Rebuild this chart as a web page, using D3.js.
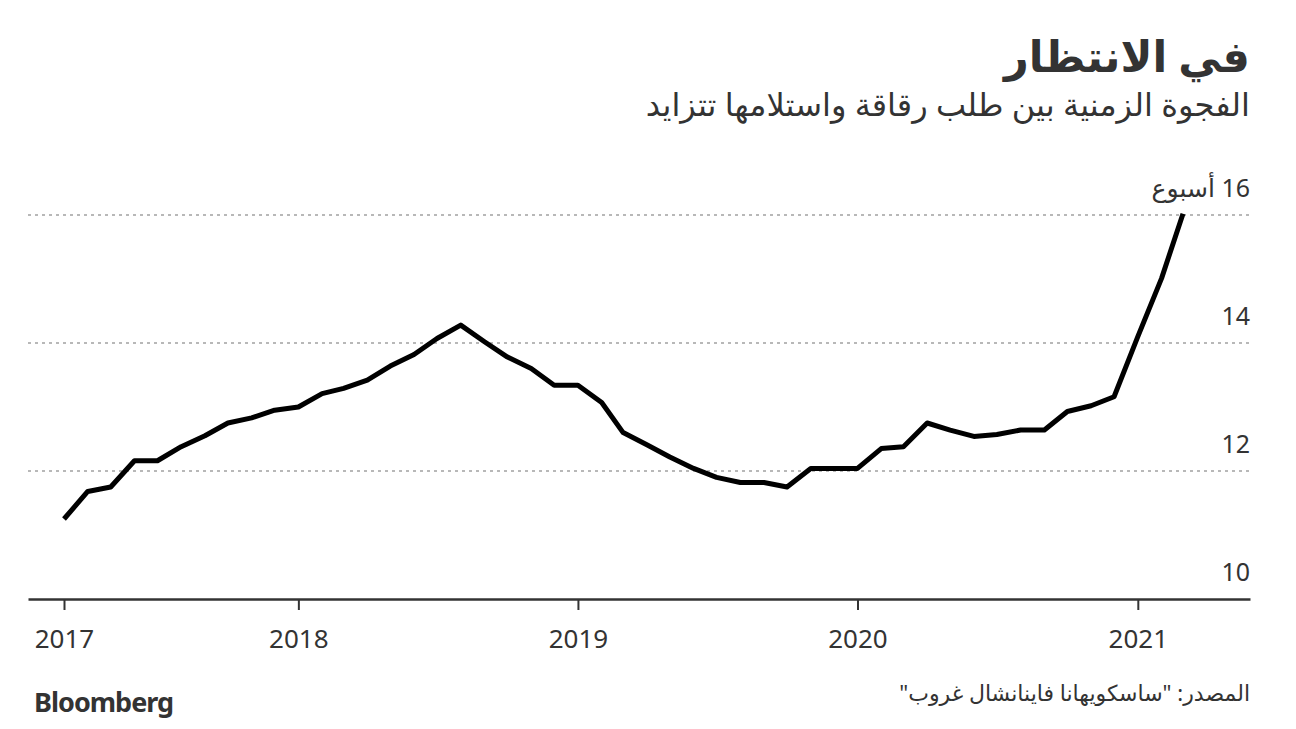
<!DOCTYPE html>
<html><head><meta charset="utf-8">
<script src="https://cdn.jsdelivr.net/npm/d3@7"></script>
<style>
body{margin:0;background:#fff;}
svg{display:block;}
text{font-family:"Noto Sans","DejaVu Sans",sans-serif;}
</style></head>
<body>
<svg id="c" width="1296" height="729"></svg>
<script>
const title = "في الانتظار";
const subtitle = "الفجوة الزمنية بين طلب رقاقة واستلامها تتزايد";
const source = "المصدر: \"ساسكويهانا فاينانشال غروب\"";
const unitLabel = "أسبوع";
const startMonth = "2017-03";
const values = [11.25,11.68,11.75,12.16,12.16,12.38,12.55,12.75,12.83,12.95,13.0,13.21,13.29,
  13.42,13.64,13.82,14.07,14.28,14.02,13.78,13.60,13.34,13.34,13.07,12.60,12.41,12.22,
  12.04,11.90,11.82,11.82,11.75,12.04,12.04,12.04,12.35,12.38,12.75,12.64,12.54,12.57,
  12.64,12.64,12.93,13.02,13.16,14.10,15.01,16.02];
const yTicks = [10,12,14,16];
const xTickYears = [2017,2018,2019,2020,2021];

(function(){
const parse = d3.timeParse("%Y-%m");
const d0 = parse(startMonth);
const dates = values.map((v,i)=>d3.timeMonth.offset(d0,i));
const data = values.map((v,i)=>({date:dates[i], value:v}));

const svg = d3.select("#c");
const mLeft=28, mRight=1250, mTop=215, mBottom=599;

const x0 = d3.scaleTime().domain([dates[0], dates[dates.length-1]]).range([64,1183]);
const x = d3.scaleTime().domain([x0.invert(mLeft), x0.invert(mRight)]).range([mLeft,mRight]);
const y = d3.scaleLinear().domain([10,16]).range([mBottom,mTop]);

svg.append("text").attr("x",1250).attr("y",72).attr("text-anchor","start")
  .attr("direction","rtl").attr("font-size",43).attr("font-weight","bold").attr("fill","#333").text(title);
svg.append("text").attr("x",1250).attr("y",116).attr("text-anchor","start")
  .attr("direction","rtl").attr("font-size",32).attr("fill","#333").text(subtitle);

const grid = svg.append("g");
grid.selectAll("line").data(yTicks.filter(t=>t>10)).join("line")
  .attr("x1",mLeft).attr("x2",mRight).attr("y1",d=>y(d)).attr("y2",d=>y(d))
  .attr("stroke","#b8b8b8").attr("stroke-width",2).attr("stroke-dasharray","3,4");

svg.append("g").selectAll("text").data(yTicks).join("text")
  .attr("x",mRight).attr("y",d=>y(d)-18)
  .attr("text-anchor", d=> d===16 ? "start" : "end")
  .attr("font-size",25).attr("fill","#333")
  .attr("direction", d=> d===16 ? "rtl" : "ltr")
  .text(d=> d===16 ? d+" "+unitLabel : d);

const tickDates = xTickYears.map((yr,i)=> i===0 ? dates[0] : new Date(yr,0,1));
const xAxis = d3.axisBottom(x).tickValues(tickDates).tickFormat(d3.timeFormat("%Y"))
  .tickSize(11).tickSizeOuter(0).tickPadding(20);
const gx = svg.append("g").attr("transform",`translate(0,${mBottom})`).call(xAxis);
gx.select(".domain").attr("stroke","#333").attr("stroke-width",2.5);
gx.selectAll(".tick line").attr("stroke","#333").attr("stroke-width",2);
gx.selectAll(".tick text").attr("font-size",26).attr("fill","#333")
  .attr("font-family","'Noto Sans','DejaVu Sans',sans-serif");

const line = d3.line().x(d=>x(d.date)).y(d=>y(d.value));
svg.append("path").datum(data).attr("d",line).attr("fill","none")
  .attr("stroke","#000").attr("stroke-width",5).attr("stroke-linejoin","round").attr("stroke-linecap","butt");

svg.append("text").attr("x",34).attr("y",712).attr("font-size",27).attr("font-weight","bold")
  .attr("fill","#333").attr("letter-spacing","-1").attr("font-family","'Liberation Sans',Arial,sans-serif").text("Bloomberg");
svg.append("text").attr("x",1250).attr("y",701).attr("text-anchor","start").attr("direction","rtl")
  .attr("font-size",22).attr("fill","#333").text(source);
})();
</script>
</body></html>
